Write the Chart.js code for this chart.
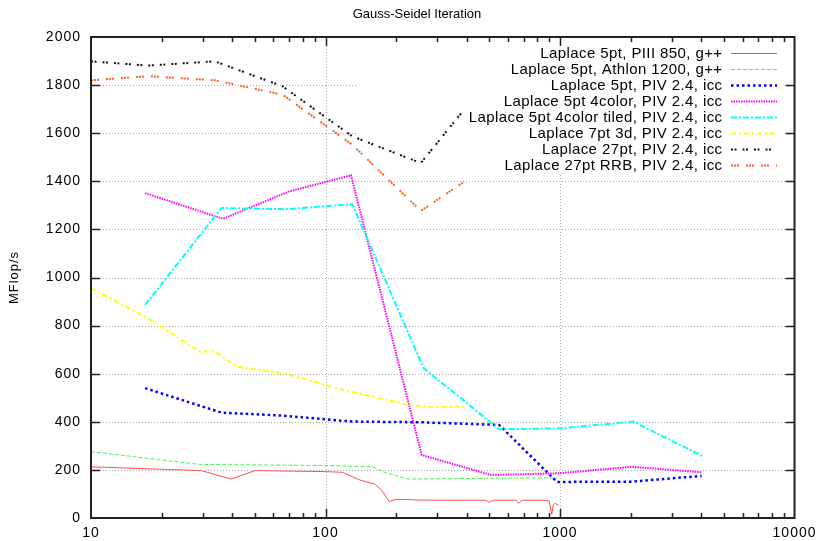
<!DOCTYPE html>
<html>
<head>
<meta charset="utf-8">
<script src="https://cdn.jsdelivr.net/npm/chart.js@4/dist/chart.umd.min.js"></script>
<style>
  html, body { margin: 0; padding: 0; background: #fff; }
  #wrap { width: 821px; height: 541px; }
</style>
</head>
<body>
<div id="wrap"><canvas id="c" width="821" height="541"></canvas></div>
<script>
// --- data ---
const xTicks = [10, 100, 1000, 10000];
const yTicks = [0, 200, 400, 600, 800, 1000, 1200, 1400, 1600, 1800, 2000];

const labels = [
  'Laplace 5pt, PIII 850, g++',
  'Laplace 5pt, Athlon 1200, g++',
  'Laplace 5pt, PIV 2.4, icc',
  'Laplace 5pt 4color, PIV 2.4, icc',
  'Laplace 5pt 4color tiled, PIV 2.4, icc',
  'Laplace 7pt 3d, PIV 2.4, icc',
  'Laplace 27pt, PIV 2.4, icc',
  'Laplace 27pt RRB, PIV 2.4, icc'
];

const piiiX = [10, 29.5, 39.7, 50, 100, 118, 140, 162, 173, 187, 200, 250, 300, 400, 480, 499, 520, 650, 665, 690, 850, 898, 922, 935, 953, 983];
const piiiY = [213, 197, 162, 197, 193, 190, 158, 141, 117, 68, 78, 75, 74, 74, 74, 65, 74, 74, 61, 74, 74, 71, 15, 54, 61, 54];

const athlonX = [10, 29, 100, 159, 175, 206, 224, 500, 970];
const athlonY = [276, 223, 218, 213, 193, 172, 162, 165, 167];

const pivX = [17, 36, 65, 130, 257, 550, 970, 2000, 4016];
const pivY = [540, 438, 426, 401, 398, 387, 150, 151, 175];

const colorX = [17, 36.5, 70, 128.5, 257, 507, 991, 2023, 4018];
const colorY = [1351, 1244, 1358, 1425, 262, 179, 186, 213, 190];

const tiledX = [17, 36, 68, 130, 262, 550, 1000, 2050, 4100];
const tiledY = [886, 1289, 1284, 1305, 623, 369, 373, 401, 255];

const pt7X = [10, 17, 29, 33.7, 41.7, 68, 122, 228, 277, 390];
const pt7Y = [956, 838, 692, 692, 630, 599, 530, 470, 463, 463];

const pt27X = [10, 17.5, 33.7, 65.6, 130, 255, 390];
const pt27Y = [1899, 1881, 1899, 1795, 1587, 1476, 1698];

const rrbX = [10, 17.5, 33.7, 65.6, 130, 255, 390];
const rrbY = [1820, 1837, 1820, 1760, 1552, 1277, 1398];

const FONT = "'Liberation Sans', Arial, sans-serif";

function pairs(xs, ys) {
  return xs.map((x, i) => ({ x: x, y: ys[i] }));
}

const styles = [
  { color: '#ff5050', width: 1,   dash: [] },
  { color: '#50f050', width: 1,   dash: [4, 2] },
  { color: '#0000ff', width: 2.5, dash: [2.5, 3] },
  { color: '#ff00ff', width: 2,   dash: [1.5, 1] },
  { color: '#00ffff', width: 2,   dash: [6, 2, 2, 2] },
  { color: '#ffff00', width: 2,   dash: [5, 3, 2, 3] },
  { color: '#111111', width: 2,   dash: [2, 1.5, 2, 6] },
  { color: '#ff6020', width: 2,   dash: [2, 1, 2, 1, 2, 7] }
];

const series = [
  pairs(piiiX, piiiY), pairs(athlonX, athlonY), pairs(pivX, pivY), pairs(colorX, colorY),
  pairs(tiledX, tiledY), pairs(pt7X, pt7Y), pairs(pt27X, pt27Y), pairs(rrbX, rrbY)
];

const datasets = series.map((d, i) => ({
  label: labels[i],
  data: d,
  borderColor: styles[i].color,
  borderWidth: styles[i].width,
  borderDash: styles[i].dash,
  pointRadius: 0,
  tension: 0,
  fill: false,
  order: 8 - i
}));

// grid, frame, inward ticks, key and title, gnuplot style
const gnuplotLook = {
  id: 'gnuplotLook',
  beforeDraw(chart) {
    // gnuplot's png font is wide: spread the tick digits a bit
    chart.ctx.letterSpacing = '1px';
  },
  beforeDatasetsDraw(chart) {
    const ctx = chart.ctx, a = chart.chartArea;
    const xs = chart.scales.x, ys = chart.scales.y;
    ctx.save();
    ctx.strokeStyle = '#a8a8a8';
    ctx.lineWidth = 1;
    ctx.setLineDash([1, 2]);
    yTicks.slice(1, -1).forEach(v => {
      const y = Math.round(ys.getPixelForValue(v)) + 0.5;
      ctx.beginPath(); ctx.moveTo(a.left, y); ctx.lineTo(a.right, y); ctx.stroke();
    });
    xTicks.slice(1, -1).forEach(v => {
      const x = Math.round(xs.getPixelForValue(v)) + 0.5;
      ctx.beginPath(); ctx.moveTo(x, a.top); ctx.lineTo(x, a.bottom); ctx.stroke();
    });
    // key area has no grid
    ctx.fillStyle = '#fff';
    ctx.fillRect(357, a.top + 1, a.right - 357 - 1, 173 - a.top);
    ctx.restore();
  },
  afterDatasetsDraw(chart) {
    const ctx = chart.ctx, a = chart.chartArea;
    const xs = chart.scales.x, ys = chart.scales.y;
    ctx.save();
    ctx.strokeStyle = '#222';
    ctx.lineWidth = 1.5;
    ctx.setLineDash([]);
    // ticks
    ctx.beginPath();
    yTicks.slice(1, -1).forEach(v => {
      const y = Math.round(ys.getPixelForValue(v)) + 0.5;
      ctx.moveTo(a.left, y); ctx.lineTo(a.left + 9, y);
      ctx.moveTo(a.right, y); ctx.lineTo(a.right - 9, y);
    });
    for (let dec = 10; dec < 10000; dec *= 10) {
      for (let m = 1; m <= 9; m++) {
        const v = dec * m;
        if (m === 1 && dec === 10) continue;
        const len = m === 1 ? 9 : 5;
        const x = Math.round(xs.getPixelForValue(v)) + 0.5;
        ctx.moveTo(x, a.bottom); ctx.lineTo(x, a.bottom - len);
        ctx.moveTo(x, a.top); ctx.lineTo(x, a.top + len);
      }
    }
    ctx.stroke();
    ctx.lineWidth = 2;
    ctx.strokeRect(a.left, a.top, a.right - a.left, a.bottom - a.top);

    // key
    ctx.font = '15px ' + FONT;
    ctx.letterSpacing = '0.4px';
    ctx.fillStyle = '#000';
    ctx.textAlign = 'right';
    ctx.textBaseline = 'middle';
    chart.data.datasets.forEach((ds, i) => {
      const y = 53.5 + i * 16;
      ctx.fillText(ds.label, 722.5, y);
      ctx.strokeStyle = ds.borderColor;
      ctx.lineWidth = ds.borderWidth;
      ctx.setLineDash(ds.borderDash);
      ctx.beginPath(); ctx.moveTo(731, y); ctx.lineTo(777, y); ctx.stroke();
    });

    // title
    ctx.setLineDash([]);
    ctx.font = '13px ' + FONT;
    ctx.letterSpacing = '0px';
    ctx.textAlign = 'center';
    ctx.fillText('Gauss-Seidel Iteration', 417, 14);
    ctx.restore();
  }
};

new Chart(document.getElementById('c'), {
  type: 'line',
  data: { datasets: datasets },
  options: {
    responsive: false,
    animation: false,
    layout: { padding: { top: 37, right: 25, left: 0, bottom: 0 } },
    plugins: { legend: { display: false }, tooltip: { enabled: false }, title: { display: false } },
    scales: {
      x: {
        type: 'logarithmic',
        min: 10, max: 10000,
        grid: { display: false, drawTicks: false },
        border: { display: false },
        afterBuildTicks: s => { s.ticks = xTicks.map(v => ({ value: v })); },
        afterFit: s => { s.height = 23; },
        ticks: {
          autoSkip: false, maxRotation: 0, padding: 7,
          color: '#000', font: { family: FONT, size: 14 },
          callback: v => String(v)
        }
      },
      y: {
        type: 'linear',
        min: 0, max: 2000,
        grid: { display: false, drawTicks: false },
        border: { display: false },
        afterBuildTicks: s => { s.ticks = yTicks.map(v => ({ value: v })); },
        afterFit: s => { s.width = 91; },
        ticks: { padding: 10, color: '#000', font: { family: FONT, size: 14 }, callback: v => String(v) },
        title: {
          display: true, text: 'MFlop/s', color: '#000',
          font: { family: FONT, size: 13 }, padding: { top: 7, bottom: 0 }
        }
      }
    }
  },
  plugins: [gnuplotLook]
});
</script>
</body>
</html>
